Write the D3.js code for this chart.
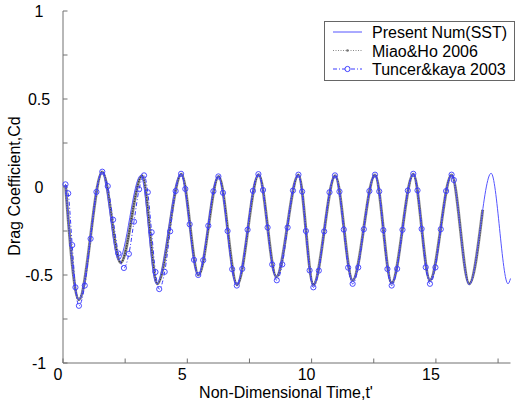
<!DOCTYPE html>
<html>
<head>
<meta charset="utf-8">
<script src="https://cdn.jsdelivr.net/npm/d3@7"></script>
<style>
  body { margin: 0; background: #fff; }
  svg { font-family: Arial, "Liberation Sans", sans-serif; }
</style>
</head>
<body>
<svg id="chart" width="515" height="405"></svg>
<script>
/* drag coefficient vs time */
// Present Num(SST)
const presentT = [0.1, 0.64, 1.57, 2.24, 3.13, 3.76, 4.74, 5.43, 6.24, 6.98, 7.86, 8.57, 9.46, 10.07, 10.94, 11.65, 12.55, 13.22, 14.09, 14.76, 15.63, 16.34, 17.22, 17.9, 18.0];
const presentV = [0.015, -0.64, 0.085, -0.415, 0.066, -0.55, 0.074, -0.5, 0.06, -0.555, 0.072, -0.51, 0.068, -0.555, 0.064, -0.53, 0.068, -0.545, 0.074, -0.53, 0.068, -0.555, 0.078, -0.55, -0.52];
// Miao&Ho 2006
const miaoT = [0.1, 0.64, 1.58, 2.32, 3.18, 3.79, 4.76, 5.45, 6.26, 7.0, 7.87, 8.58, 9.47, 10.07, 10.95, 11.65, 12.55, 13.22, 14.09, 14.76, 15.63, 16.34, 16.88];
const miaoV = [0.01, -0.64, 0.085, -0.43, 0.064, -0.55, 0.072, -0.5, 0.06, -0.555, 0.07, -0.51, 0.068, -0.555, 0.064, -0.53, 0.068, -0.545, 0.072, -0.53, 0.068, -0.55, -0.13];
// Tuncer&kaya 2003
const tuncerT = [0.1, 0.21, 0.37, 0.5, 0.64, 0.875, 1.11, 1.345, 1.58, 1.8, 2.015, 2.23, 2.45,
  2.65, 2.855, 3.06, 3.26, 3.41, 3.565, 3.72, 3.87, 4.09, 4.31, 4.53, 4.75, 4.92, 5.095, 5.27, 5.44,
  5.64, 5.845, 6.05, 6.25, 6.435, 6.62, 6.805, 6.99, 7.21, 7.425, 7.64, 7.86, 8.045, 8.23, 8.415, 8.6,
  8.82, 9.035, 9.25, 9.47, 9.62, 9.77, 9.92, 10.07, 10.29, 10.505, 10.72, 10.94, 11.12, 11.295, 11.47, 11.65,
  11.875, 12.1, 12.325, 12.55, 12.72, 12.885, 13.05, 13.22, 13.44, 13.655, 13.87, 14.09, 14.26, 14.425, 14.59, 14.76,
  14.98, 15.195, 15.41, 15.63, 15.72];
const tuncerV = [0.015, -0.036, -0.33, -0.57, -0.675, -0.56, -0.294, -0.028, 0.087, 0.005, -0.186, -0.378, -0.46,
  -0.38, -0.197, -0.013, 0.066, -0.03, -0.257, -0.483, -0.58, -0.482, -0.252, -0.023, 0.075, -0.011, -0.212, -0.414, -0.5,
  -0.416, -0.22, -0.024, 0.06, -0.033, -0.25, -0.467, -0.56, -0.465, -0.243, -0.022, 0.073, -0.017, -0.23, -0.44, -0.53,
  -0.44, -0.23, -0.02, 0.07, -0.026, -0.25, -0.474, -0.57, -0.475, -0.252, -0.03, 0.066, -0.026, -0.242, -0.458, -0.55,
  -0.457, -0.24, -0.023, 0.07, -0.025, -0.245, -0.466, -0.56, -0.465, -0.243, -0.02, 0.075, -0.019, -0.238, -0.456, -0.55,
  -0.457, -0.24, -0.023, 0.07, 0.04];

const xTicks = [0, 2.5, 5, 7.5, 10, 12.5, 15, 17.5];
const xLabels = [0, 5, 10, 15];
const yTicks = [-1, -0.75, -0.5, -0.25, 0, 0.25, 0.5, 0.75, 1];
const yLabels = [-1, -0.5, 0, 0.5, 1];
const legendNames = ["Present Num(SST)", "Miao&Ho 2006", "Tuncer&kaya 2003"];

const svg = d3.select("svg#chart");
const axisColor = "#707070";
const blue = "#3b3bff";

const x = d3.scaleLinear().domain([0, 18]).range([63, 510.5]);
const y = d3.scaleLinear().domain([-1, 1]).range([363, 11]);

const zip = (ts, vs) => ts.map((t, i) => ({ t: t, v: vs[i] }));
const presentData = zip(presentT, presentV);
const miaoData = zip(miaoT, miaoV);
const tuncerData = zip(tuncerT, tuncerV);

const line = d3.line()
    .x((d) => x(d.t))
    .y((d) => y(d.v))
    .curve(d3.curveMonotoneX);

// axes
svg.append("line")
    .attr("x1", x(0)).attr("x2", x(0))
    .attr("y1", y(1)).attr("y2", y(-1))
    .attr("stroke", axisColor);
svg.append("line")
    .attr("x1", x(0)).attr("x2", x(18))
    .attr("y1", y(-1)).attr("y2", y(-1))
    .attr("stroke", axisColor);
svg.selectAll("line.ytick")
    .data(yTicks)
    .join("line")
    .attr("class", "ytick")
    .attr("x1", x(0)).attr("x2", x(0) + 4.5)
    .attr("y1", (d) => y(d)).attr("y2", (d) => y(d))
    .attr("stroke", axisColor);
svg.selectAll("line.xtick")
    .data(xTicks)
    .join("line")
    .attr("class", "xtick")
    .attr("x1", (d) => x(d)).attr("x2", (d) => x(d))
    .attr("y1", y(-1)).attr("y2", y(-1) - 4.5)
    .attr("stroke", axisColor);
svg.selectAll("text.ylabel")
    .data(yLabels)
    .join("text")
    .attr("class", "ylabel")
    .attr("x", 39)
    .attr("y", (d) => y(d) + 6)
    .attr("text-anchor", "middle")
    .style("font-size", "16px")
    .text((d) => d);
svg.selectAll("text.xlabel")
    .data(xLabels)
    .join("text")
    .attr("class", "xlabel")
    .attr("x", (d) => x(d) - 5)
    .attr("y", 380)
    .attr("text-anchor", "middle")
    .style("font-size", "16px")
    .text((d) => d);

svg.append("text")
    .attr("x", 286)
    .attr("y", 398)
    .attr("text-anchor", "middle")
    .style("font-size", "16px")
    .text("Non-Dimensional Time,t'");
svg.append("text")
    .attr("transform", "translate(20, 186) rotate(-90)")
    .attr("text-anchor", "middle")
    .style("font-size", "16px")
    .text("Drag Coefficient,Cd");

// series
svg.append("path")
    .datum(miaoData)
    .attr("d", line)
    .attr("fill", "none")
    .attr("stroke", "#8a8a8a")
    .attr("stroke-width", 3);
svg.append("path")
    .datum(miaoData)
    .attr("d", line)
    .attr("fill", "none")
    .attr("stroke", "#333")
    .attr("stroke-width", 1.6)
    .attr("stroke-dasharray", "1,1.5");
svg.append("path")
    .datum(presentData)
    .attr("d", line)
    .attr("fill", "none")
    .attr("stroke", "#5555ff")
    .attr("stroke-width", 1);
svg.append("path")
    .datum(tuncerData)
    .attr("d", line)
    .attr("fill", "none")
    .attr("stroke", blue)
    .attr("stroke-width", 1)
    .attr("stroke-dasharray", "4,2,1,2");
svg.selectAll("circle.tuncer")
    .data(tuncerData)
    .join("circle")
    .attr("class", "tuncer")
    .attr("cx", (d) => x(d.t))
    .attr("cy", (d) => y(d.v))
    .attr("r", 2.6)
    .attr("fill", "none")
    .attr("stroke", blue)
    .attr("stroke-width", 0.9);

// legend
let legend = svg.append("g").attr("transform", "translate(324, 21)");
legend.append("rect")
    .attr("x", 0.5).attr("y", 0.5)
    .attr("width", 190).attr("height", 59)
    .attr("fill", "white")
    .attr("stroke", "#666");
const rowY = [11, 29.5, 48];
legend.append("line")
    .attr("x1", 9).attr("x2", 38).attr("y1", rowY[0]).attr("y2", rowY[0])
    .attr("stroke", "#5555ff");
legend.append("line")
    .attr("x1", 9).attr("x2", 38).attr("y1", rowY[1]).attr("y2", rowY[1])
    .attr("stroke", "#888").attr("stroke-dasharray", "1,1.5");
legend.append("circle")
    .attr("cx", 23.5).attr("cy", rowY[1]).attr("r", 1.3)
    .attr("fill", "#777");
legend.append("line")
    .attr("x1", 9).attr("x2", 38).attr("y1", rowY[2]).attr("y2", rowY[2])
    .attr("stroke", blue).attr("stroke-dasharray", "4,2,1,2");
legend.append("circle")
    .attr("cx", 23.5).attr("cy", rowY[2]).attr("r", 2.6)
    .attr("fill", "white").attr("stroke", blue);
legend.selectAll("text")
    .data(legendNames)
    .join("text")
    .attr("x", 48)
    .attr("y", (d, i) => rowY[i] + 6)
    .style("font-size", "16px")
    .text((d) => d);
</script>
</body>
</html>
